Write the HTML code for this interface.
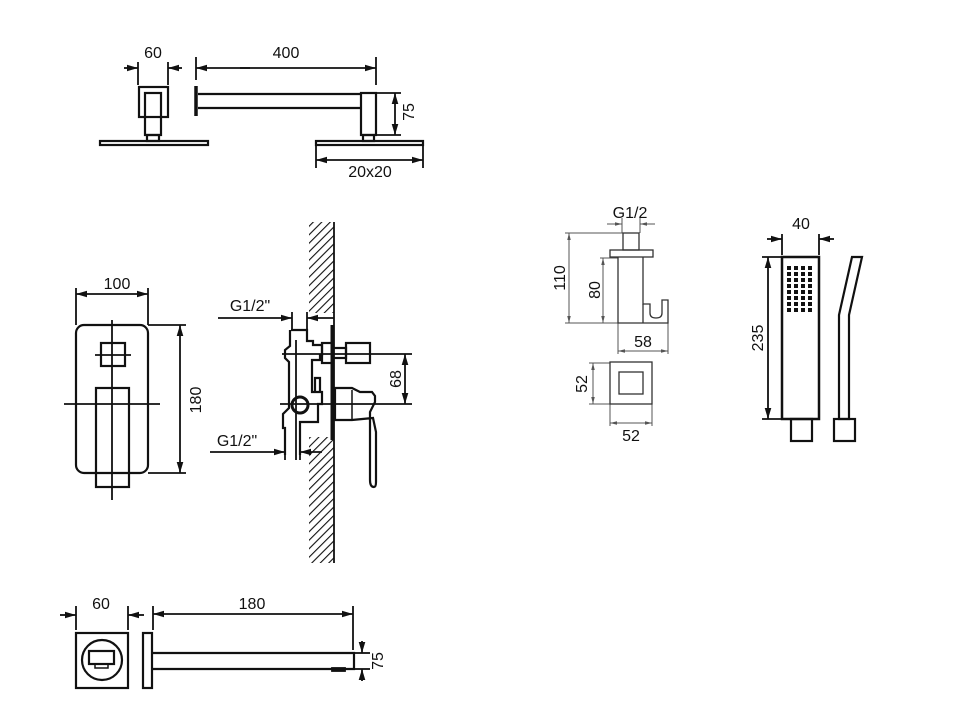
<!DOCTYPE html>
<html><head><meta charset="utf-8"><style>
html,body{margin:0;padding:0;background:#fff;}
svg{display:block}
text{font-family:"Liberation Sans",sans-serif;font-size:16px;fill:#111;}
</style></head><body>
<svg width="960" height="720" viewBox="0 0 960 720" xmlns="http://www.w3.org/2000/svg">
<defs>
<marker id="a" viewBox="0 0 10 6" refX="10" refY="3" markerWidth="11" markerHeight="7" orient="auto" markerUnits="userSpaceOnUse"><path d="M0,0L10,3L0,6z" fill="#111"/></marker>
<marker id="s" viewBox="0 0 8 4" refX="8" refY="2" markerWidth="7" markerHeight="4" orient="auto" markerUnits="userSpaceOnUse"><path d="M0,0L8,2L0,4z" fill="#555"/></marker>
<pattern id="h" width="6" height="6" patternUnits="userSpaceOnUse" patternTransform="rotate(45)"><line x1="0" y1="0" x2="0" y2="6" stroke="#111" stroke-width="2.2"/></pattern>
</defs>
<g fill="none" stroke="#111" stroke-width="1.8">
<!-- top left -->
<line x1="138" y1="62" x2="138" y2="85"/><line x1="168" y1="62" x2="168" y2="85"/>
<line x1="124" y1="68" x2="138" y2="68" marker-end="url(#a)"/><line x1="182" y1="68" x2="168" y2="68" marker-end="url(#a)"/>
<rect x="139" y="87" width="29" height="30" stroke-width="2.2"/>
<rect x="145" y="93" width="16" height="42" stroke-width="2.2"/>
<rect x="147" y="135" width="12" height="6" stroke-width="2.2"/>
<rect x="100" y="141" width="108" height="4" stroke-width="2.2"/>
<line x1="196" y1="57" x2="196" y2="80"/><line x1="376" y1="57" x2="376" y2="85"/>
<line x1="250" y1="68" x2="196" y2="68" marker-end="url(#a)"/><line x1="240" y1="68" x2="376" y2="68" marker-end="url(#a)"/>
<line x1="196" y1="86" x2="196" y2="116" stroke-width="3.5"/>
<path d="M198,94H361M198,108H361" stroke-width="2.2"/>
<rect x="361" y="93" width="15" height="42" stroke-width="2.2"/>
<rect x="363" y="135" width="11" height="6" stroke-width="2.2"/>
<rect x="316" y="141" width="107" height="4" stroke-width="2.2"/>
<line x1="376" y1="93" x2="401" y2="93"/><line x1="376" y1="135" x2="401" y2="135"/>
<line x1="395" y1="114" x2="395" y2="93" marker-end="url(#a)"/><line x1="395" y1="114" x2="395" y2="135" marker-end="url(#a)"/>
<line x1="316" y1="145" x2="316" y2="168"/><line x1="423" y1="145" x2="423" y2="168"/>
<line x1="370" y1="160" x2="316" y2="160" marker-end="url(#a)"/><line x1="370" y1="160" x2="423" y2="160" marker-end="url(#a)"/>

<!-- middle left plate -->
<line x1="76" y1="288" x2="76" y2="325"/><line x1="148" y1="288" x2="148" y2="325"/>
<line x1="112" y1="294" x2="76" y2="294" marker-end="url(#a)"/><line x1="112" y1="294" x2="148" y2="294" marker-end="url(#a)"/>
<rect x="76" y="325" width="72" height="148" rx="8" stroke-width="2.2"/>
<line x1="112" y1="320" x2="112" y2="500"/>
<rect x="101" y="343" width="24" height="23" stroke-width="2.2"/>
<line x1="95" y1="355" x2="131" y2="355"/>
<rect x="96" y="388" width="33" height="99" stroke-width="2.2"/>
<line x1="64" y1="404" x2="160" y2="404"/>
<line x1="148" y1="325" x2="186" y2="325"/><line x1="148" y1="473" x2="186" y2="473"/>
<line x1="180" y1="399" x2="180" y2="325" marker-end="url(#a)"/><line x1="180" y1="399" x2="180" y2="473" marker-end="url(#a)"/>

<!-- wall -->
<rect x="309" y="222" width="25" height="91" fill="url(#h)" stroke="none"/>
<rect x="309" y="437" width="25" height="126" fill="url(#h)" stroke="none"/>
<line x1="334" y1="222" x2="334" y2="563"/>
<line x1="332" y1="325" x2="332" y2="440" stroke-width="3"/>
<!-- mixer -->
<line x1="218" y1="318" x2="292" y2="318" marker-end="url(#a)"/><line x1="334" y1="318" x2="307" y2="318" marker-end="url(#a)"/>
<line x1="292" y1="312" x2="292" y2="330"/><line x1="307" y1="312" x2="307" y2="330"/>
<path d="M291,330H307V341H313V345H322V355H320V360H312V392H322V404H318V422H300V428H300V455M285,455V428H283V414L289,408V362L285,358V350L290,346V330" stroke-width="2.2"/>
<rect x="322" y="343" width="10" height="20" stroke-width="2.2"/>
<rect x="333" y="348" width="13" height="10" stroke-width="2.2"/>
<rect x="346" y="343" width="24" height="20" stroke-width="2.2"/>
<line x1="282" y1="354" x2="412" y2="354"/>
<line x1="280" y1="404" x2="412" y2="404"/>
<line x1="296" y1="340" x2="296" y2="460"/>
<circle cx="300" cy="405" r="8" stroke-width="3"/>
<path d="M315,392V378H320V392" stroke-width="2.2"/>
<path d="M335,388H352L360,392H372L375,396V402L370,412V480Q370,487 374,487Q376,487 376,482V432L373,418L352,420H335Z" stroke-width="2.2"/>
<line x1="352" y1="390" x2="352" y2="420" stroke-width="1.5"/>
<line x1="405" y1="379" x2="405" y2="354" marker-end="url(#a)"/><line x1="405" y1="379" x2="405" y2="404" marker-end="url(#a)"/>
<line x1="210" y1="452" x2="285" y2="452" marker-end="url(#a)"/><line x1="322" y1="452" x2="300" y2="452" marker-end="url(#a)"/>
<line x1="285" y1="440" x2="285" y2="460"/><line x1="300" y1="440" x2="300" y2="460"/>

<!-- holder -->
<g stroke="#555" stroke-width="1">
<line x1="607" y1="224" x2="622" y2="224" marker-end="url(#s)"/><line x1="655" y1="224" x2="640" y2="224" marker-end="url(#s)"/>
<line x1="622" y1="218" x2="622" y2="233"/><line x1="640" y1="218" x2="640" y2="233"/>
<line x1="565" y1="233" x2="623" y2="233"/><line x1="565" y1="323" x2="618" y2="323"/>
<line x1="569" y1="278" x2="569" y2="233" marker-end="url(#s)"/><line x1="569" y1="278" x2="569" y2="323" marker-end="url(#s)"/>
<line x1="600" y1="258" x2="618" y2="258"/>
<line x1="603" y1="290" x2="603" y2="258" marker-end="url(#s)"/><line x1="603" y1="290" x2="603" y2="323" marker-end="url(#s)"/>
<line x1="618" y1="323" x2="618" y2="354"/><line x1="668" y1="323" x2="668" y2="354"/>
<line x1="643" y1="351" x2="618" y2="351" marker-end="url(#s)"/><line x1="643" y1="351" x2="668" y2="351" marker-end="url(#s)"/>
<line x1="589" y1="363" x2="610" y2="363"/><line x1="589" y1="404" x2="610" y2="404"/>
<line x1="593" y1="383" x2="593" y2="363" marker-end="url(#s)"/><line x1="593" y1="383" x2="593" y2="404" marker-end="url(#s)"/>
<line x1="610" y1="404" x2="610" y2="426"/><line x1="652" y1="404" x2="652" y2="426"/>
<line x1="631" y1="423" x2="610" y2="423" marker-end="url(#s)"/><line x1="631" y1="423" x2="652" y2="423" marker-end="url(#s)"/>
</g>
<g stroke="#333" stroke-width="1.3">
<rect x="623" y="233" width="16" height="17"/>
<rect x="610" y="250" width="43" height="7"/>
<path d="M618,257V323H668V300H662V313Q662,318 656,318Q650,318 650,313V304H643V257"/>
<line x1="643" y1="304" x2="643" y2="323"/>
<rect x="610" y="362" width="42" height="42"/>
<rect x="619" y="372" width="24" height="22"/>
</g>

<!-- hand shower -->
<line x1="782" y1="234" x2="782" y2="255"/><line x1="819" y1="234" x2="819" y2="255"/>
<line x1="767" y1="239" x2="782" y2="239" marker-end="url(#a)"/><line x1="834" y1="239" x2="819" y2="239" marker-end="url(#a)"/>
<rect x="782" y="257" width="37" height="162" stroke-width="2.5"/>
<rect x="791" y="419" width="21" height="22" stroke-width="2.2"/>
<line x1="762" y1="257" x2="782" y2="257"/><line x1="762" y1="419" x2="782" y2="419"/>
<line x1="768" y1="338" x2="768" y2="257" marker-end="url(#a)"/><line x1="768" y1="338" x2="768" y2="419" marker-end="url(#a)"/>
<path d="M852,257H862L849,315V419H839V315Z" stroke-width="2.2"/>
<rect x="834" y="419" width="21" height="22" stroke-width="2.2"/>

<!-- bottom spout -->
<line x1="76" y1="606" x2="76" y2="630"/><line x1="128" y1="606" x2="128" y2="630"/>
<line x1="60" y1="615" x2="76" y2="615" marker-end="url(#a)"/><line x1="144" y1="615" x2="128" y2="615" marker-end="url(#a)"/>
<rect x="76" y="633" width="52" height="55" stroke-width="2.2"/>
<circle cx="102" cy="660" r="20" stroke-width="2.2"/>
<rect x="89" y="651" width="25" height="13" stroke-width="2.2"/>
<rect x="95" y="664" width="13" height="4" stroke-width="1.5"/>
<rect x="143" y="633" width="9" height="55" stroke-width="2.2"/>
<path d="M152,653H354V669H152" stroke-width="2.2"/>
<rect x="332" y="668" width="13" height="3" fill="#111"/>
<line x1="153" y1="606" x2="153" y2="630"/><line x1="353" y1="606" x2="353" y2="650"/>
<line x1="250" y1="614" x2="153" y2="614" marker-end="url(#a)"/><line x1="250" y1="614" x2="353" y2="614" marker-end="url(#a)"/>
<line x1="354" y1="653" x2="370" y2="653"/><line x1="354" y1="669" x2="370" y2="669"/>
<line x1="362" y1="641" x2="362" y2="653" marker-end="url(#a)"/><line x1="362" y1="681" x2="362" y2="669" marker-end="url(#a)"/>
</g>
<!-- nozzle grid -->
<g fill="#111">
<rect x="787" y="266" width="4" height="4"/><rect x="794" y="266" width="4" height="4"/><rect x="801" y="266" width="4" height="4"/><rect x="808" y="266" width="4" height="4"/>
<rect x="787" y="272" width="4" height="4"/><rect x="794" y="272" width="4" height="4"/><rect x="801" y="272" width="4" height="4"/><rect x="808" y="272" width="4" height="4"/>
<rect x="787" y="278" width="4" height="4"/><rect x="794" y="278" width="4" height="4"/><rect x="801" y="278" width="4" height="4"/><rect x="808" y="278" width="4" height="4"/>
<rect x="787" y="284" width="4" height="4"/><rect x="794" y="284" width="4" height="4"/><rect x="801" y="284" width="4" height="4"/><rect x="808" y="284" width="4" height="4"/>
<rect x="787" y="290" width="4" height="4"/><rect x="794" y="290" width="4" height="4"/><rect x="801" y="290" width="4" height="4"/><rect x="808" y="290" width="4" height="4"/>
<rect x="787" y="296" width="4" height="4"/><rect x="794" y="296" width="4" height="4"/><rect x="801" y="296" width="4" height="4"/><rect x="808" y="296" width="4" height="4"/>
<rect x="787" y="302" width="4" height="4"/><rect x="794" y="302" width="4" height="4"/><rect x="801" y="302" width="4" height="4"/><rect x="808" y="302" width="4" height="4"/>
<rect x="787" y="308" width="4" height="4"/><rect x="794" y="308" width="4" height="4"/><rect x="801" y="308" width="4" height="4"/><rect x="808" y="308" width="4" height="4"/>
</g>
<!-- labels -->
<g text-anchor="middle">
<text x="153" y="58">60</text>
<text x="286" y="58">400</text>
<text transform="translate(414,112) rotate(-90)">75</text>
<text x="370" y="177">20x20</text>
<text x="117" y="289">100</text>
<text transform="translate(201,400) rotate(-90)">180</text>
<text x="250" y="311">G1/2"</text>
<text x="237" y="446">G1/2"</text>
<text transform="translate(401,379) rotate(-90)">68</text>
<text x="630" y="218">G1/2</text>
<text transform="translate(565,278) rotate(-90)">110</text>
<text transform="translate(600,290) rotate(-90)">80</text>
<text x="643" y="347">58</text>
<text transform="translate(587,384) rotate(-90)">52</text>
<text x="631" y="441">52</text>
<text x="801" y="229">40</text>
<text transform="translate(763,338) rotate(-90)">235</text>
<text x="101" y="609">60</text>
<text x="252" y="609">180</text>
<text transform="translate(383,661) rotate(-90)">75</text>
</g>
</svg>
</body></html>
